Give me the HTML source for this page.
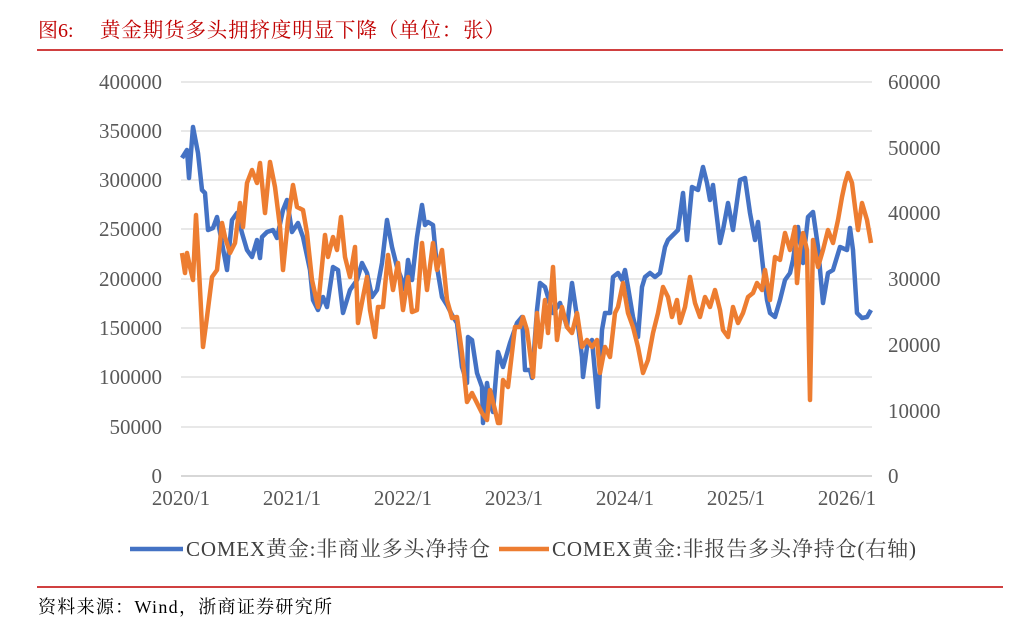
<!DOCTYPE html>
<html><head><meta charset="utf-8"><style>
body{margin:0;background:#fff;width:1024px;height:637px;overflow:hidden}
svg{display:block}
</style></head><body>
<svg width="1024" height="637" xmlns="http://www.w3.org/2000/svg" font-family="'Liberation Serif','Noto Serif CJK SC',serif">
<text x="38" y="37" font-size="20" fill="#C00000">图6:</text>
<text x="100" y="37" font-size="20.5" fill="#C00000" textLength="405">黄金期货多头拥挤度明显下降（单位：张）</text>
<line x1="37" y1="50" x2="1003" y2="50" stroke="#C00000" stroke-width="1.5"/>
<g stroke="#d9d9d9" stroke-width="1.3">
<line x1="181" y1="82" x2="872" y2="82"/><line x1="181" y1="131" x2="872" y2="131"/>
<line x1="181" y1="180" x2="872" y2="180"/><line x1="181" y1="229" x2="872" y2="229"/>
<line x1="181" y1="279" x2="872" y2="279"/><line x1="181" y1="328" x2="872" y2="328"/>
<line x1="181" y1="377" x2="872" y2="377"/><line x1="181" y1="427" x2="872" y2="427"/>
</g>
<line x1="181" y1="476" x2="872" y2="476" stroke="#bfbfbf" stroke-width="1.3"/>
<g font-size="21" fill="#595959" text-anchor="end">
<text x="162" y="89">400000</text><text x="162" y="138">350000</text><text x="162" y="187">300000</text>
<text x="162" y="236">250000</text><text x="162" y="286">200000</text><text x="162" y="335">150000</text>
<text x="162" y="384">100000</text><text x="162" y="434">50000</text><text x="162" y="483">0</text>
</g>
<g font-size="21" fill="#595959">
<text x="888" y="89">60000</text><text x="888" y="155">50000</text><text x="888" y="220">40000</text>
<text x="888" y="286">30000</text><text x="888" y="352">20000</text><text x="888" y="418">10000</text>
<text x="888" y="483">0</text>
</g>
<g font-size="21" fill="#595959" text-anchor="middle">
<text x="181" y="505">2020/1</text><text x="292" y="505">2021/1</text><text x="403" y="505">2022/1</text>
<text x="514" y="505">2023/1</text><text x="625" y="505">2024/1</text><text x="736" y="505">2025/1</text>
<text x="847" y="505">2026/1</text>
</g>
<polyline fill="none" stroke="#4472C4" stroke-width="4.5" stroke-linejoin="round" points="182,158 187,150 189,178 193,127 198,153 202,190 205,193 208,230 213,228 217,217 222,243 227,270 232,220 237,213 242,233 247,250 252,257 257,240 260,258 262,237 267,232 273,230 277,238 283,210 287,200 292,232 298,223 303,237 310,270 313,300 318,310 323,297 327,307 333,267 338,270 343,313 350,290 357,280 362,263 367,273 372,297 377,290 382,263 387,220 392,247 397,267 402,280 405,290 408,260 412,280 417,237 422,205 425,225 428,222 433,225 437,267 442,297 447,305 452,315 457,323 462,367 467,383 468,337 472,340 477,373 482,387 483,423 487,383 490,403 493,412 498,352 503,367 510,343 517,323 522,317 525,370 530,370 532,378 537,310 540,283 545,287 548,297 553,313 560,303 567,327 572,283 577,317 582,357 583,377 587,347 592,340 595,373 598,407 602,330 605,313 610,313 613,277 618,273 622,280 625,270 628,287 633,317 638,337 642,287 645,277 650,273 655,277 660,273 665,247 668,240 673,235 678,230 683,193 687,240 692,187 698,190 703,167 707,183 710,200 713,185 720,243 723,230 728,203 733,230 740,180 745,178 750,213 755,240 758,222 763,267 767,300 770,313 775,317 780,300 785,280 790,273 793,260 798,227 803,263 808,217 813,212 818,247 823,303 828,273 833,270 840,247 847,250 850,228 853,250 857,313 862,318 867,317 871,310"/>
<polyline fill="none" stroke="#ED7D31" stroke-width="4.5" stroke-linejoin="round" points="182,253 185,273 187,253 190,267 193,280 196,215 199,270 203,347 207,317 212,277 217,270 222,223 225,237 230,253 235,243 240,203 243,227 247,183 252,170 257,183 260,163 265,213 270,162 275,187 280,227 283,270 288,220 293,185 297,207 303,210 307,233 312,280 318,307 325,235 328,257 333,237 337,250 341,217 345,257 350,277 355,247 358,323 363,297 367,277 370,310 375,337 378,307 383,307 388,255 393,290 398,263 403,310 408,277 412,312 417,310 422,243 427,290 433,243 437,270 442,250 447,300 452,318 457,317 462,353 467,402 472,393 477,403 482,413 487,420 490,390 495,410 498,423 500,423 503,380 508,387 515,327 520,327 523,317 527,330 530,353 533,377 537,313 540,347 545,300 548,333 553,267 557,340 562,307 567,327 572,333 577,313 582,347 587,340 592,347 597,340 600,373 605,347 610,357 615,313 618,307 623,283 628,313 633,327 638,347 643,373 648,360 653,333 658,313 663,287 668,297 672,317 677,300 680,323 685,307 690,277 695,303 700,317 705,297 710,307 715,290 720,310 723,330 728,337 733,307 738,323 743,313 748,297 753,293 757,283 762,290 765,270 770,300 775,257 780,260 785,233 790,250 795,227 797,283 800,250 803,233 807,250 810,400 813,240 818,267 823,250 828,230 833,243 838,220 842,197 845,183 848,173 852,183 855,207 858,230 862,203 867,220 871,243"/>
<line x1="130" y1="549" x2="183" y2="549" stroke="#4472C4" stroke-width="4.5"/>
<text x="186" y="556" font-size="21" fill="#404040" textLength="304">COMEX黄金:非商业多头净持仓</text>
<line x1="499" y1="549" x2="549" y2="549" stroke="#ED7D31" stroke-width="4.5"/>
<text x="552" y="556" font-size="21" fill="#404040" textLength="364">COMEX黄金:非报告多头净持仓(右轴)</text>
<line x1="37" y1="587" x2="1003" y2="587" stroke="#C00000" stroke-width="1.5"/>
<text x="38" y="613" font-size="18" fill="#000" textLength="294">资料来源：Wind，浙商证券研究所</text>
</svg>
</body></html>
